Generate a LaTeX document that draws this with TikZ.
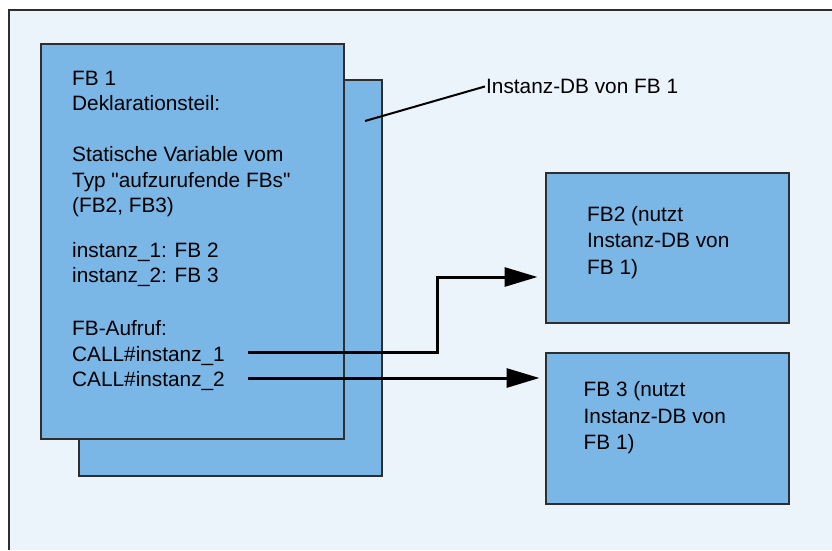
\documentclass[tikz,border=0pt]{standalone}
\usepackage{fontspec}
\setmainfont{Liberation Sans}
\usepackage{xcolor}
\usetikzlibrary{arrows.meta,positioning,calc}
\definecolor{fbblue}{HTML}{7AB6E6}
\definecolor{paneback}{HTML}{EBF3FB}
\definecolor{edgegray}{HTML}{2E2E2E}
\tikzset{
  blk/.style={draw=edgegray,fill=fbblue,line width=1.5pt,inner sep=0pt,outer sep=0pt,anchor=north west},
  % text inside the blocks
  blktext/.style={align=left,inner sep=0pt,anchor=north west,font=\fontsize{20.8}{25.5}\selectfont},
  % call arrows and leader line
  callarrow/.style={line width=3pt,-{Triangle[length=33pt,width=19pt]}},
  leader/.style={line width=2pt},
}

\begin{document}
\begin{tikzpicture}[x=1pt,y=-1pt]
\useasboundingbox (0,0) rectangle (832,550);
% frame
\fill[paneback] (9,10) rectangle (832,550);
\draw[edgegray,line width=2pt] (9,550) -- (9,10) -- (832,10);
% instance DB behind FB 1
\node[blk,minimum width=303pt,minimum height=396pt] (idb) at (79,80) {};
\node[blk,minimum width=303pt,minimum height=395pt] (fb1) at (41,44) {};
\node[blk,minimum width=243pt,minimum height=150pt] (fb2) at (546,173) {};
\node[blk,minimum width=243pt,minimum height=151pt] (fb3) at (546,353) {};
\node[blktext] (fb1txt) at (72,70.5) {FB 1\\Deklarationsteil:\\[25.7pt]Statische Variable vom\\Typ \textquotedbl aufzurufende FBs\textquotedbl\\(FB2, FB3)\\[19pt]instanz\_1: FB 2\\instanz\_2: FB 3\\[27.7pt]FB-Aufruf:\\CALL\#instanz\_1\\CALL\#instanz\_2};
\node[blktext,font=\fontsize{20.8}{26.5}\selectfont] (fb2txt) at (587,206) {FB2 (nutzt\\Instanz-DB von\\FB 1)};
\node[blktext,font=\fontsize{20.8}{26.5}\selectfont] (fb3txt) at (583.5,381.5) {FB 3 (nutzt\\Instanz-DB von\\FB 1)};
\node[font=\fontsize{20.8}{24}\selectfont,inner sep=1pt,anchor=base west] (dblabel) at (485,93.5) {Instanz-DB von FB 1};
\coordinate (dbpt) at (365,121);
\draw[leader] (dbpt) -- (dblabel.west);
% calls
\coordinate (call1) at (248,352);
\coordinate (call2) at (248,378);
\coordinate (knee) at (437,277);
\draw[callarrow,shorten >=8.5pt] (call1) -- (call1 -| knee) -- (knee) -- (knee -| fb2.west);
\draw[callarrow,shorten >=6.5pt] (call2) -- (call2 -| fb3.west);
\end{tikzpicture}
\end{document}
